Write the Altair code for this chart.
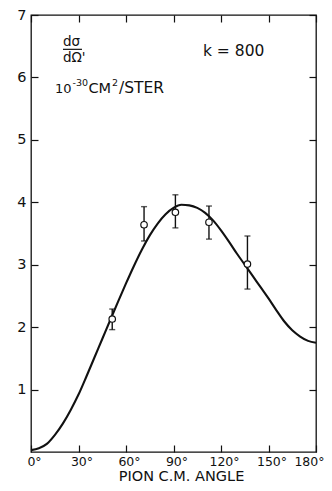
import altair as alt
import pandas as pd

# Theory curve (pion C.M. angle in degrees, cross section)
curve_deg = [0, 5, 10, 15, 20, 25, 30, 35, 40, 45, 50, 55, 60, 65, 70, 75, 80, 85, 90,
             95, 100, 105, 110, 115, 120, 125, 130, 135, 140, 145, 150, 155, 160, 165,
             170, 175, 180]
curve_val = [0.03, 0.06, 0.13, 0.27, 0.45, 0.67, 0.92, 1.21, 1.51, 1.81, 2.11, 2.41, 2.70,
             2.98, 3.24, 3.47, 3.66, 3.81, 3.91, 3.96, 3.95, 3.91, 3.83, 3.71, 3.55, 3.37,
             3.18, 3.00, 2.82, 2.64, 2.46, 2.27, 2.09, 1.95, 1.85, 1.78, 1.75]

# Measured points
pt_deg = [51.3, 71.4, 91.2, 112.4, 136.7]
pt_val = [2.13, 3.64, 3.84, 3.68, 3.01]
pt_lo = [1.96, 3.38, 3.59, 3.41, 2.61]
pt_hi = [2.29, 3.93, 4.12, 3.94, 3.46]

x_ticks = [0, 30, 60, 90, 120, 150, 180]
y_ticks = [1, 2, 3, 4, 5, 6, 7]

FONT = "DejaVu Sans"
INK = "#111111"

curve_df = pd.DataFrame({"deg": curve_deg, "val": curve_val})
pts_df = pd.DataFrame({"deg": pt_deg, "val": pt_val, "lo": pt_lo, "hi": pt_hi})

xs = alt.Scale(domain=[0, 180], nice=False, zero=False)
ys = alt.Scale(domain=[0, 7], nice=False, zero=False)

curve = alt.Chart(curve_df).mark_line(color=INK, strokeWidth=2.1, interpolate="monotone").encode(
    x=alt.X("deg:Q", scale=xs, title="PION C.M. ANGLE",
            axis=alt.Axis(orient="bottom", values=x_ticks, labelExpr="datum.value + '°'",
                          domain=False, tickSize=7, offset=-7, tickColor=INK, tickWidth=1.2,
                          labelPadding=3, labelFontSize=12.5, labelFont=FONT, labelColor=INK,
                          labelBaseline="top",
                          labelAlign={"condition": {"test": "datum.value == 180", "value": "right"},
                                      "value": "center"},
                          labelOffset={"condition": {"test": "datum.value == 180", "value": 8},
                                       "value": 3},
                          titleFont=FONT, titleFontSize=14.5, titleFontWeight="normal",
                          titleColor=INK, titleX=150, titleY=35, titleBaseline="alphabetic",
                          titleAlign="center", grid=False)),
    y=alt.Y("val:Q", scale=ys, title=None,
            axis=alt.Axis(orient="left", values=y_ticks, domain=False, tickSize=7, offset=-7,
                          tickColor=INK, tickWidth=1.2, labelPadding=5, labelFontSize=14.5,
                          labelFont=FONT, labelColor=INK, grid=False)),
)

frame_axes = alt.Chart(curve_df).mark_line(opacity=0).encode(
    x=alt.X("deg:Q", scale=xs,
            axis=alt.Axis(orient="top", values=x_ticks, labels=False, domain=False, tickSize=7,
                          offset=-7, tickColor=INK, tickWidth=1.2, title=None, grid=False)),
    y=alt.Y("val:Q", scale=ys,
            axis=alt.Axis(orient="right", values=y_ticks, labels=False, domain=False, tickSize=7,
                          offset=-7, tickColor=INK, tickWidth=1.2, title=None, grid=False)),
)

bars = alt.Chart(pts_df).mark_rule(color=INK, strokeWidth=1.4).encode(
    x=alt.X("deg:Q", scale=xs, axis=None),
    y=alt.Y("lo:Q", scale=ys, axis=None),
    y2="hi:Q",
)
cap_lo = alt.Chart(pts_df).mark_tick(color=INK, orient="horizontal", size=6, thickness=1.4).encode(
    x=alt.X("deg:Q", scale=xs, axis=None),
    y=alt.Y("lo:Q", scale=ys, axis=None),
)
cap_hi = alt.Chart(pts_df).mark_tick(color=INK, orient="horizontal", size=6, thickness=1.4).encode(
    x=alt.X("deg:Q", scale=xs, axis=None),
    y=alt.Y("hi:Q", scale=ys, axis=None),
)
points = alt.Chart(pts_df).mark_point(shape="circle", size=42, filled=False, fill="white",
                                      fillOpacity=1, color=INK, strokeWidth=1.2, opacity=1).encode(
    x=alt.X("deg:Q", scale=xs, axis=None),
    y=alt.Y("val:Q", scale=ys, axis=None),
)

# Annotations (left-aligned, alphabetic baseline)
ann_text = ["dσ", "dΩ'", "k = 800", "10", "CM", "/STER"]
ann_deg = [20.2, 20.2, 108.6, 15.2, 36.3, 55.6]
ann_val = [6.51, 6.24, 6.35, 5.75, 5.75, 5.75]
ann_size = [13.5, 13.5, 15.5, 13, 14.5, 15.5]
ann_df = pd.DataFrame({"t": ann_text, "deg": ann_deg, "val": ann_val, "fs": ann_size})
ann = alt.Chart(ann_df).mark_text(font=FONT, color=INK, baseline="alphabetic",
                                  align="left").encode(
    x=alt.X("deg:Q", scale=xs, axis=None),
    y=alt.Y("val:Q", scale=ys, axis=None),
    text="t:N",
    size=alt.Size("fs:Q", scale=None, legend=None),
)

sup_text = ["-30", "2"]
sup_deg = [26.2, 51.2]
sup_val = [5.87, 5.87]
sup_df = pd.DataFrame({"t": sup_text, "deg": sup_deg, "val": sup_val})
sup = alt.Chart(sup_df).mark_text(font=FONT, fontSize=9.5, color=INK, baseline="alphabetic",
                                  align="left").encode(
    x=alt.X("deg:Q", scale=xs, axis=None),
    y=alt.Y("val:Q", scale=ys, axis=None),
    text="t:N",
)

frac_df = pd.DataFrame({"x1": [20.2], "x2": [32.2], "val": [6.45]})
frac = alt.Chart(frac_df).mark_rule(color=INK, strokeWidth=1.2).encode(
    x=alt.X("x1:Q", scale=xs, axis=None),
    x2="x2:Q",
    y=alt.Y("val:Q", scale=ys, axis=None),
)

chart = alt.layer(curve, frame_axes, bars, cap_lo, cap_hi, points, ann, sup, frac).resolve_axis(
    x="independent", y="independent"
).properties(
    width=285, height=437,
    autosize=alt.AutoSizeParams(type="none"),
    padding={"left": 23, "top": 7, "right": 8, "bottom": 31},
    background="white",
).configure_view(stroke=INK, strokeWidth=1.3)

chart.save("out.html", embed_options={"renderer": "svg", "actions": False})
